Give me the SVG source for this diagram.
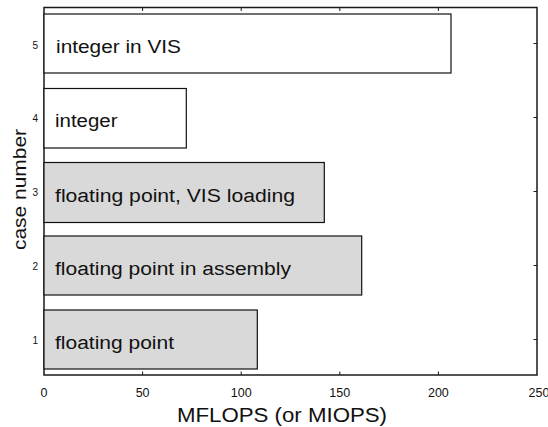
<svg xmlns="http://www.w3.org/2000/svg" width="548" height="427" viewBox="0 0 548 427">
<style>
.ax{fill:none;stroke:#1a1a1a;stroke-width:1.5}
.tk{stroke:#1a1a1a;stroke-width:1}
.bar{stroke:#111;stroke-width:1.2}
.fp{fill:#d9d9d9}
.in{fill:#ffffff}
.lbl{font-family:"Liberation Sans",Arial,sans-serif;font-size:18px;fill:#111}
.tl{font-family:"Liberation Sans",Arial,sans-serif;font-size:12.5px;fill:#111;text-anchor:middle}
.yl{font-family:"Liberation Sans",Arial,sans-serif;font-size:10px;fill:#111;text-anchor:end}
.tt{font-family:"Liberation Sans",Arial,sans-serif;font-size:19.5px;fill:#111}
</style>
<rect width="548" height="427" fill="#ffffff"/>
<g id="axes">
<rect class="ax" x="44" y="7.5" width="493" height="367.5"/>
<path class="tk" d="M142.6 7.5v3.5M241.2 7.5v3.5M339.8 7.5v3.5M438.4 7.5v3.5M142.6 375v-3.5M241.2 375v-3.5M339.8 375v-3.5M438.4 375v-3.5M537 43.5h-3.5M537 117.5h-3.5M537 191.5h-3.5M537 265.5h-3.5M537 339.5h-3.5"/>
<text class="tl" x="44" y="396.5">0</text>
<text class="tl" x="142.6" y="396.5">50</text>
<text class="tl" x="241.2" y="396.5">100</text>
<text class="tl" x="339.8" y="396.5">150</text>
<text class="tl" x="438.4" y="396.5">200</text>
<text class="tl" x="539" y="396.5">250</text>
<text class="yl" x="38" y="49">5</text>
<text class="yl" x="38" y="122">4</text>
<text class="yl" x="38" y="196">3</text>
<text class="yl" x="38" y="270">2</text>
<text class="yl" x="38" y="344">1</text>
<text class="tt" x="177" y="421.5" textLength="210" lengthAdjust="spacingAndGlyphs">MFLOPS (or MIOPS)</text>
<text class="tt" transform="translate(25.5 250) rotate(-90)" x="0" y="0" style="font-size:18px" textLength="121" lengthAdjust="spacingAndGlyphs">case number</text>
</g>
<g id="bar5">
<rect class="bar in" x="44" y="14" width="407" height="59"/>
<text class="lbl" x="56" y="53.3" textLength="125" lengthAdjust="spacingAndGlyphs">integer in VIS</text>
</g>
<g id="bar4">
<rect class="bar in" x="44" y="88.5" width="142.3" height="59.5"/>
<text class="lbl" x="55" y="127.3" textLength="62.5" lengthAdjust="spacingAndGlyphs">integer</text>
</g>
<g id="bar3">
<rect class="bar fp" x="44" y="162.5" width="280.3" height="60"/>
<text class="lbl" x="55" y="201.7" textLength="240" lengthAdjust="spacingAndGlyphs">floating point, VIS loading</text>
</g>
<g id="bar2">
<rect class="bar fp" x="44" y="236" width="317.7" height="59"/>
<text class="lbl" x="55" y="275.3" textLength="236" lengthAdjust="spacingAndGlyphs">floating point in assembly</text>
</g>
<g id="bar1">
<rect class="bar fp" x="44" y="310" width="213.3" height="59"/>
<text class="lbl" x="55" y="349.3" textLength="119" lengthAdjust="spacingAndGlyphs">floating point</text>
</g>
</svg>
